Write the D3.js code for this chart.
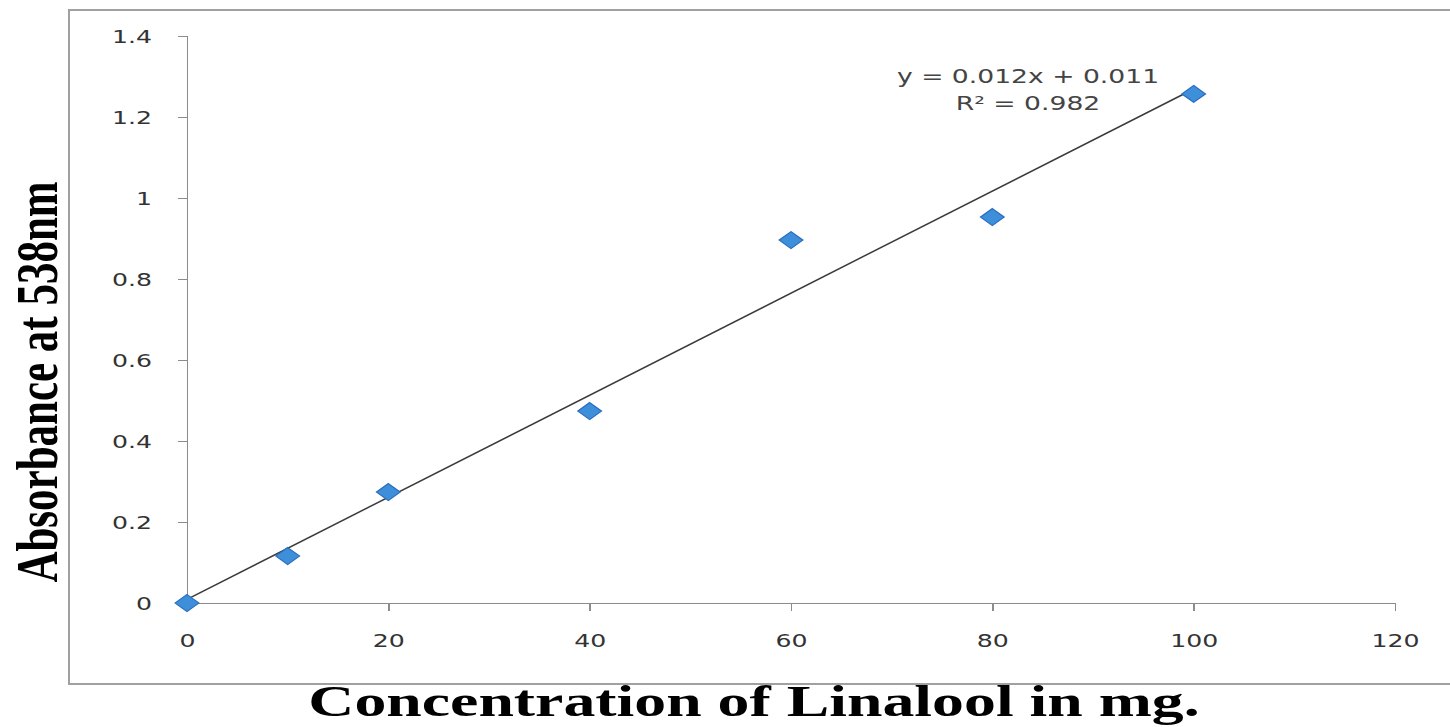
<!DOCTYPE html>
<meta charset="utf-8">
<style>
body { margin: 0; background: #fff; }
.axis path, .axis line { stroke: #8c8c8c; stroke-width: 1.5px; shape-rendering: crispEdges; }
.axis text { font-family: "DejaVu Sans", Verdana, sans-serif; font-size: 18px; fill: #333; }
.title { font-family: "Liberation Serif", "Times New Roman", serif; font-weight: bold; fill: #000; }
.eq { font-family: "DejaVu Sans", Verdana, sans-serif; font-size: 19px; fill: #444; }
</style>
<svg width="1450" height="727"></svg>
<script src="https://d3js.org/d3.v7.min.js"></script>
<script>
// concentration (mg) vs absorbance
var conc = [0, 10, 20, 40, 60, 80, 100];
var absorb = [0, 0.116, 0.274, 0.474, 0.896, 0.953, 1.257];
var xTicks = [0, 20, 40, 60, 80, 100, 120];
var yTicks = [0, 0.2, 0.4, 0.6, 0.8, 1, 1.2, 1.4];
var eqLines = ["y = 0.012x + 0.011", "R\u00b2 = 0.982"];

var stretch = 1.4; // the source picture is stretched sideways

var svg = d3.select("svg");

var x = d3.scaleLinear().domain([0, 120]).range([187, 1395]);
var y = d3.scaleLinear().domain([0, 1.4]).range([603, 36]);

// outer chart frame (runs off the right edge)
svg.append("rect")
  .attr("x", 69).attr("y", 10)
  .attr("width", 1400).attr("height", 674)
  .attr("fill", "none")
  .attr("stroke", "#a0a0a0")
  .attr("stroke-width", 2);

var gx = svg.append("g")
  .attr("class", "axis")
  .attr("transform", "translate(0," + y(0) + ")")
  .call(d3.axisBottom(x).tickValues(xTicks).tickSize(8).tickSizeOuter(8).tickFormat(d3.format("d")));
gx.selectAll("text")
  .attr("y", 0).attr("dy", 0)
  .attr("transform", "translate(0,44) scale(" + stretch + ",1)");

var gy = svg.append("g")
  .attr("class", "axis")
  .attr("transform", "translate(" + x(0) + ",0)")
  .call(d3.axisLeft(y).tickValues(yTicks).tickSize(9).tickSizeOuter(9).tickFormat(function(d) { return d3.format("")(+d.toFixed(1)); }));
gy.selectAll("text")
  .attr("x", 0).attr("dy", "0.35em")
  .attr("transform", "translate(-35,0) scale(" + stretch + ",1)");

// least squares trendline through the points
var n = conc.length,
  mx = d3.mean(conc), my = d3.mean(absorb),
  sxy = d3.sum(conc, function(c, i) { return (c - mx) * (absorb[i] - my); }),
  sxx = d3.sum(conc, function(c) { return (c - mx) * (c - mx); }),
  slope = sxy / sxx, icpt = my - slope * mx;

svg.append("line")
  .attr("x1", x(0)).attr("y1", y(icpt))
  .attr("x2", x(100)).attr("y2", y(icpt + slope * 100))
  .attr("stroke", "#3a3a3a")
  .attr("stroke-width", 1.5);

var sym = d3.symbolDiamond2 ? d3.symbol(d3.symbolDiamond2).size(184) : null;

svg.append("g").selectAll("path")
  .data(conc)
  .enter().append("path")
  .attr("d", sym ? sym() : "M0,-8.5L8.5,0L0,8.5L-8.5,0Z")
  .attr("transform", function(d, i) { return "translate(" + x(d) + "," + y(absorb[i]) + ") scale(" + stretch + ",1)"; })
  .attr("fill", "#3c8fd8")
  .attr("stroke", "#2a6cc0")
  .attr("stroke-width", 1);

svg.append("g").selectAll("text")
  .data(eqLines)
  .enter().append("text")
  .attr("class", "eq")
  .attr("text-anchor", "middle")
  .attr("transform", function(d, i) { return "translate(1028," + (83 + i * 27) + ") scale(" + stretch + ",1)"; })
  .text(function(d) { return d; });

svg.append("text")
  .attr("class", "title")
  .attr("font-size", 43)
  .attr("text-anchor", "middle")
  .attr("transform", "translate(57,382) scale(" + stretch + ",1) rotate(-90)")
  .text("Absorbance at 538nm");

svg.append("text")
  .attr("class", "title")
  .attr("font-size", 44)
  .attr("text-anchor", "middle")
  .attr("transform", "translate(754,716) scale(1.45,1)")
  .text("Concentration of Linalool in mg.");
</script>
